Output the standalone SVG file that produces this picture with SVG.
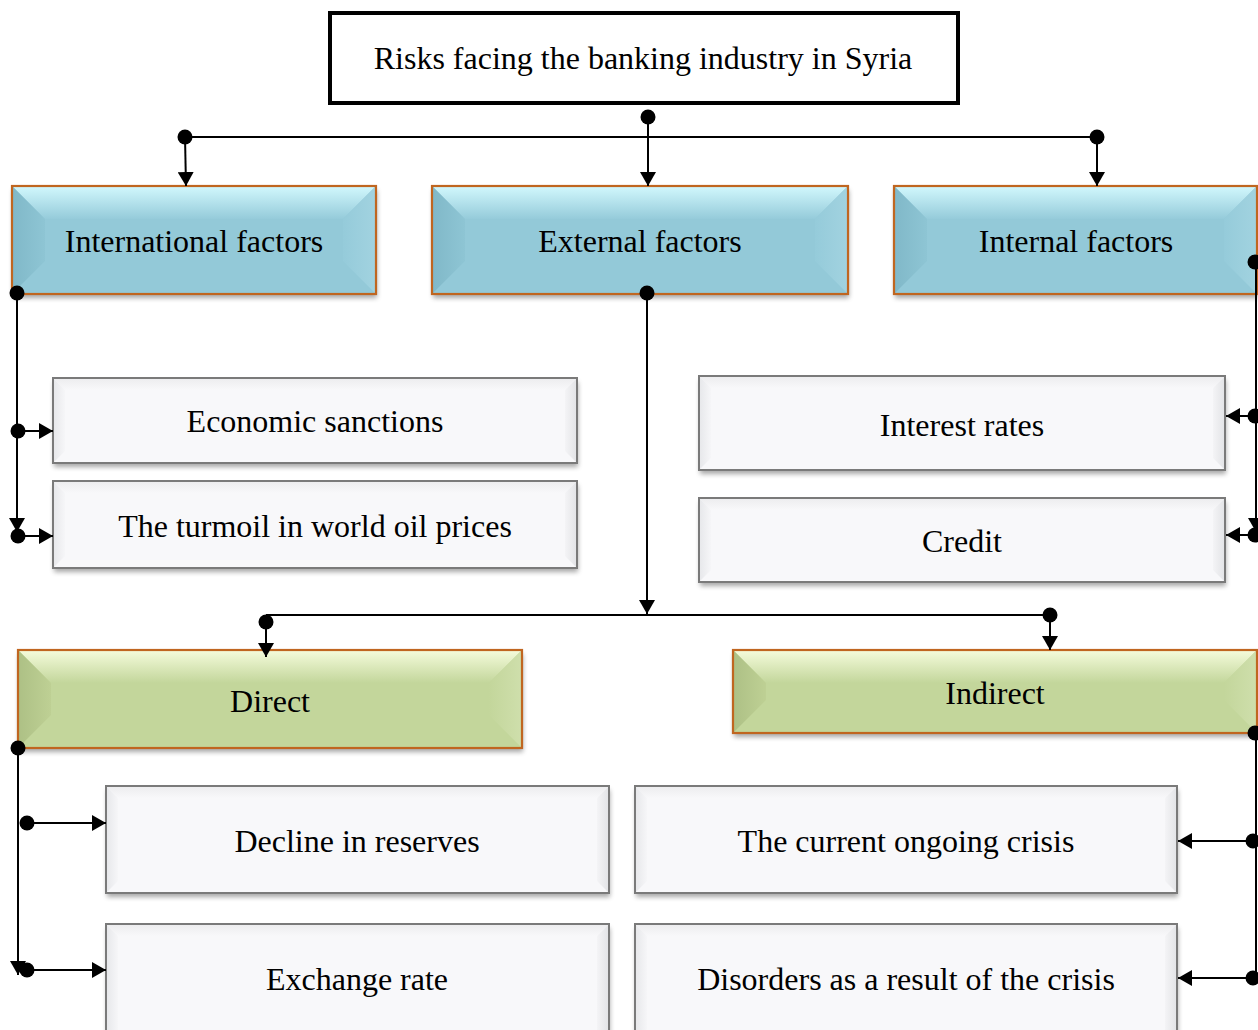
<svg xmlns="http://www.w3.org/2000/svg" width="1258" height="1030" viewBox="0 0 1258 1030">
<style>
text{font-family:"Liberation Serif","Times New Roman",serif;fill:#000;text-anchor:middle}
.t{font-size:32px}
.n{font-size:32px}
.line{stroke:#000;stroke-width:2;fill:none}
.dot{fill:#000}
.bb{stroke:#c06620;stroke-width:2.2;fill:none}
.wb{stroke:#7a7a7a;stroke-width:2;fill:none}
</style>
<defs>
<marker id="arr" viewBox="0 0 14 16" refX="14" refY="8" markerWidth="14" markerHeight="16" markerUnits="userSpaceOnUse" orient="auto">
<path d="M0,0 L14,8 L0,16 z" fill="#000"/>
</marker>
<linearGradient id="bTop" x1="0" y1="0" x2="0" y2="1"><stop offset="0" stop-color="#d2f8fd"/><stop offset="1" stop-color="#95cbda"/></linearGradient>
<linearGradient id="bLeft" x1="0" y1="0" x2="1" y2="0"><stop offset="0" stop-color="#80b8c8"/><stop offset="1" stop-color="#8ec5d4"/></linearGradient>
<linearGradient id="bRight" x1="0" y1="0" x2="1" y2="0"><stop offset="0" stop-color="#95cbda"/><stop offset="1" stop-color="#a2d3e0"/></linearGradient>
<linearGradient id="gTop" x1="0" y1="0" x2="0" y2="1"><stop offset="0" stop-color="#f5fcdc"/><stop offset="1" stop-color="#c3d69b"/></linearGradient>
<linearGradient id="gLeft" x1="0" y1="0" x2="1" y2="0"><stop offset="0" stop-color="#adc085"/><stop offset="1" stop-color="#bed094"/></linearGradient>
<linearGradient id="gRight" x1="0" y1="0" x2="1" y2="0"><stop offset="0" stop-color="#c3d69b"/><stop offset="1" stop-color="#cfdfac"/></linearGradient>
<linearGradient id="wTop" x1="0" y1="0" x2="0" y2="1"><stop offset="0" stop-color="#ececee"/><stop offset="1" stop-color="#f8f8fa"/></linearGradient>
<linearGradient id="wLeft" x1="0" y1="0" x2="1" y2="0"><stop offset="0" stop-color="#e6e7ea"/><stop offset="1" stop-color="#f6f6f8"/></linearGradient>
<linearGradient id="wRight" x1="0" y1="0" x2="1" y2="0"><stop offset="0" stop-color="#f4f4f6"/><stop offset="1" stop-color="#e2e3e6"/></linearGradient>
<filter id="sh" x="-5%" y="-10%" width="110%" height="130%">
<feGaussianBlur in="SourceAlpha" stdDeviation="2.5"/>
<feOffset dx="1" dy="4" result="b"/>
<feComponentTransfer><feFuncA type="linear" slope="0.35"/></feComponentTransfer>
<feMerge><feMergeNode/><feMergeNode in="SourceGraphic"/></feMerge>
</filter>
</defs>
<rect width="1258" height="1030" fill="#fff"/>

<g id="title">
<rect x="330" y="13" width="628" height="90" fill="#fff" stroke="#000" stroke-width="4"/>
<text class="t" x="643" y="69">Risks facing the banking industry in Syria</text>
</g>

<g id="international">
<g filter="url(#sh)"><rect x="12" y="186" width="364" height="108" fill="#93c9d8"/></g>
<polygon points="12,186 376,186 343,219 45,219" fill="url(#bTop)"/>
<polygon points="12,186 45,219 45,261 12,294" fill="url(#bLeft)"/>
<polygon points="376,186 343,219 343,261 376,294" fill="url(#bRight)"/>
<rect class="bb" x="12" y="186" width="364" height="108"/>
<text class="n" x="194" y="252">International factors</text>
</g>

<g id="external">
<g filter="url(#sh)"><rect x="432" y="186" width="416" height="108" fill="#93c9d8"/></g>
<polygon points="432,186 848,186 815,219 465,219" fill="url(#bTop)"/>
<polygon points="432,186 465,219 465,261 432,294" fill="url(#bLeft)"/>
<polygon points="848,186 815,219 815,261 848,294" fill="url(#bRight)"/>
<rect class="bb" x="432" y="186" width="416" height="108"/>
<text class="n" x="640" y="252">External factors</text>
</g>

<g id="internal">
<g filter="url(#sh)"><rect x="894" y="186" width="363" height="108" fill="#93c9d8"/></g>
<polygon points="894,186 1257,186 1224,219 927,219" fill="url(#bTop)"/>
<polygon points="894,186 927,219 927,261 894,294" fill="url(#bLeft)"/>
<polygon points="1257,186 1224,219 1224,261 1257,294" fill="url(#bRight)"/>
<rect class="bb" x="894" y="186" width="363" height="108"/>
<text class="n" x="1076" y="252">Internal factors</text>
</g>

<g id="sanctions">
<g filter="url(#sh)"><rect x="53" y="378" width="524" height="85" fill="#f8f8fa"/></g>
<polygon points="53,378 577,378 565,390 65,390" fill="url(#wTop)"/>
<polygon points="53,378 65,390 65,451 53,463" fill="url(#wLeft)"/>
<polygon points="577,378 565,390 565,451 577,463" fill="url(#wRight)"/>
<rect class="wb" x="53" y="378" width="524" height="85"/>
<text class="n" x="315" y="432">Economic sanctions</text>
</g>

<g id="oil">
<g filter="url(#sh)"><rect x="53" y="481" width="524" height="87" fill="#f8f8fa"/></g>
<polygon points="53,481 577,481 565,493 65,493" fill="url(#wTop)"/>
<polygon points="53,481 65,493 65,556 53,568" fill="url(#wLeft)"/>
<polygon points="577,481 565,493 565,556 577,568" fill="url(#wRight)"/>
<rect class="wb" x="53" y="481" width="524" height="87"/>
<text class="n" x="315" y="537">The turmoil in world oil prices</text>
</g>

<g id="interest">
<g filter="url(#sh)"><rect x="699" y="376" width="526" height="94" fill="#f8f8fa"/></g>
<polygon points="699,376 1225,376 1213,388 711,388" fill="url(#wTop)"/>
<polygon points="699,376 711,388 711,458 699,470" fill="url(#wLeft)"/>
<polygon points="1225,376 1213,388 1213,458 1225,470" fill="url(#wRight)"/>
<rect class="wb" x="699" y="376" width="526" height="94"/>
<text class="n" x="962" y="436">Interest rates</text>
</g>

<g id="credit">
<g filter="url(#sh)"><rect x="699" y="498" width="526" height="84" fill="#f8f8fa"/></g>
<polygon points="699,498 1225,498 1213,510 711,510" fill="url(#wTop)"/>
<polygon points="699,498 711,510 711,570 699,582" fill="url(#wLeft)"/>
<polygon points="1225,498 1213,510 1213,570 1225,582" fill="url(#wRight)"/>
<rect class="wb" x="699" y="498" width="526" height="84"/>
<text class="n" x="962" y="552">Credit</text>
</g>

<g id="direct">
<g filter="url(#sh)"><rect x="18" y="650" width="504" height="98" fill="#c3d69b"/></g>
<polygon points="18,650 522,650 489,683 51,683" fill="url(#gTop)"/>
<polygon points="18,650 51,683 51,715 18,748" fill="url(#gLeft)"/>
<polygon points="522,650 489,683 489,715 522,748" fill="url(#gRight)"/>
<rect class="bb" x="18" y="650" width="504" height="98"/>
<text class="n" x="270" y="712">Direct</text>
</g>

<g id="indirect">
<g filter="url(#sh)"><rect x="733" y="650" width="524" height="83" fill="#c3d69b"/></g>
<polygon points="733,650 1257,650 1224,683 766,683" fill="url(#gTop)"/>
<polygon points="733,650 766,683 766,700 733,733" fill="url(#gLeft)"/>
<polygon points="1257,650 1224,683 1224,700 1257,733" fill="url(#gRight)"/>
<rect class="bb" x="733" y="650" width="524" height="83"/>
<text class="n" x="995" y="704">Indirect</text>
</g>

<g id="reserves">
<g filter="url(#sh)"><rect x="106" y="786" width="503" height="107" fill="#f8f8fa"/></g>
<polygon points="106,786 609,786 597,798 118,798" fill="url(#wTop)"/>
<polygon points="106,786 118,798 118,881 106,893" fill="url(#wLeft)"/>
<polygon points="609,786 597,798 597,881 609,893" fill="url(#wRight)"/>
<rect class="wb" x="106" y="786" width="503" height="107"/>
<text class="n" x="357" y="852">Decline in reserves</text>
</g>

<g id="exchange">
<g filter="url(#sh)"><rect x="106" y="924" width="503" height="110" fill="#f8f8fa"/></g>
<polygon points="106,924 609,924 597,936 118,936" fill="url(#wTop)"/>
<polygon points="106,924 118,936 118,1030 106,1030" fill="url(#wLeft)"/>
<polygon points="609,924 597,936 597,1030 609,1030" fill="url(#wRight)"/>
<rect class="wb" x="106" y="924" width="503" height="110"/>
<text class="n" x="357" y="990">Exchange rate</text>
</g>

<g id="crisis">
<g filter="url(#sh)"><rect x="635" y="786" width="542" height="107" fill="#f8f8fa"/></g>
<polygon points="635,786 1177,786 1165,798 647,798" fill="url(#wTop)"/>
<polygon points="635,786 647,798 647,881 635,893" fill="url(#wLeft)"/>
<polygon points="1177,786 1165,798 1165,881 1177,893" fill="url(#wRight)"/>
<rect class="wb" x="635" y="786" width="542" height="107"/>
<text class="n" x="906" y="852">The current ongoing crisis</text>
</g>

<g id="disorders">
<g filter="url(#sh)"><rect x="635" y="924" width="542" height="110" fill="#f8f8fa"/></g>
<polygon points="635,924 1177,924 1165,936 647,936" fill="url(#wTop)"/>
<polygon points="635,924 647,936 647,1030 635,1030" fill="url(#wLeft)"/>
<polygon points="1177,924 1165,936 1165,1030 1177,1030" fill="url(#wRight)"/>
<rect class="wb" x="635" y="924" width="542" height="110"/>
<text class="n" x="906" y="990">Disorders as a result of the crisis</text>
</g>

<g id="connectors">
<line class="line" x1="185" y1="137" x2="1097" y2="137"/>
<line class="line" x1="648" y1="117" x2="648" y2="186" marker-end="url(#arr)"/>
<circle class="dot" cx="648" cy="117" r="7.5"/>
<line class="line" x1="185" y1="137" x2="186" y2="186" marker-end="url(#arr)"/>
<circle class="dot" cx="185" cy="137" r="7.5"/>
<line class="line" x1="1097" y1="137" x2="1097" y2="186" marker-end="url(#arr)"/>
<circle class="dot" cx="1097" cy="137" r="7.5"/>
<line class="line" x1="17" y1="293" x2="17" y2="532" marker-end="url(#arr)"/>
<circle class="dot" cx="17" cy="293" r="7.5"/>
<line class="line" x1="18" y1="431" x2="53" y2="431" marker-end="url(#arr)"/>
<circle class="dot" cx="18" cy="431" r="7.5"/>
<line class="line" x1="18" y1="536" x2="53" y2="536" marker-end="url(#arr)"/>
<circle class="dot" cx="18" cy="536" r="7.5"/>
<line class="line" x1="1256" y1="262" x2="1256" y2="532" marker-end="url(#arr)"/>
<circle class="dot" cx="1255" cy="262" r="7.5"/>
<line class="line" x1="1255" y1="416" x2="1226" y2="416" marker-end="url(#arr)"/>
<circle class="dot" cx="1255" cy="416" r="7.5"/>
<line class="line" x1="1255" y1="535" x2="1226" y2="535" marker-end="url(#arr)"/>
<circle class="dot" cx="1255" cy="535" r="7.5"/>
<line class="line" x1="647" y1="293" x2="647" y2="614" marker-end="url(#arr)"/>
<circle class="dot" cx="647" cy="293" r="7.5"/>
<line class="line" x1="266" y1="615" x2="1050" y2="615"/>
<line class="line" x1="266" y1="622" x2="266" y2="657" marker-end="url(#arr)"/>
<circle class="dot" cx="266" cy="622" r="7.5"/>
<line class="line" x1="1050" y1="615" x2="1050" y2="650" marker-end="url(#arr)"/>
<circle class="dot" cx="1050" cy="615" r="7.5"/>
<line class="line" x1="18" y1="748" x2="18" y2="975" marker-end="url(#arr)"/>
<circle class="dot" cx="18" cy="748" r="7.5"/>
<line class="line" x1="27" y1="823" x2="106" y2="823" marker-end="url(#arr)"/>
<circle class="dot" cx="27" cy="823" r="7.5"/>
<line class="line" x1="27" y1="970" x2="106" y2="970" marker-end="url(#arr)"/>
<circle class="dot" cx="27" cy="970" r="7.5"/>
<line class="line" x1="1256" y1="733" x2="1256" y2="978"/>
<circle class="dot" cx="1255" cy="733" r="7.5"/>
<line class="line" x1="1253" y1="841" x2="1178" y2="841" marker-end="url(#arr)"/>
<circle class="dot" cx="1253" cy="841" r="7.5"/>
<line class="line" x1="1253" y1="978" x2="1178" y2="978" marker-end="url(#arr)"/>
<circle class="dot" cx="1253" cy="978" r="7.5"/>
</g>
</svg>
